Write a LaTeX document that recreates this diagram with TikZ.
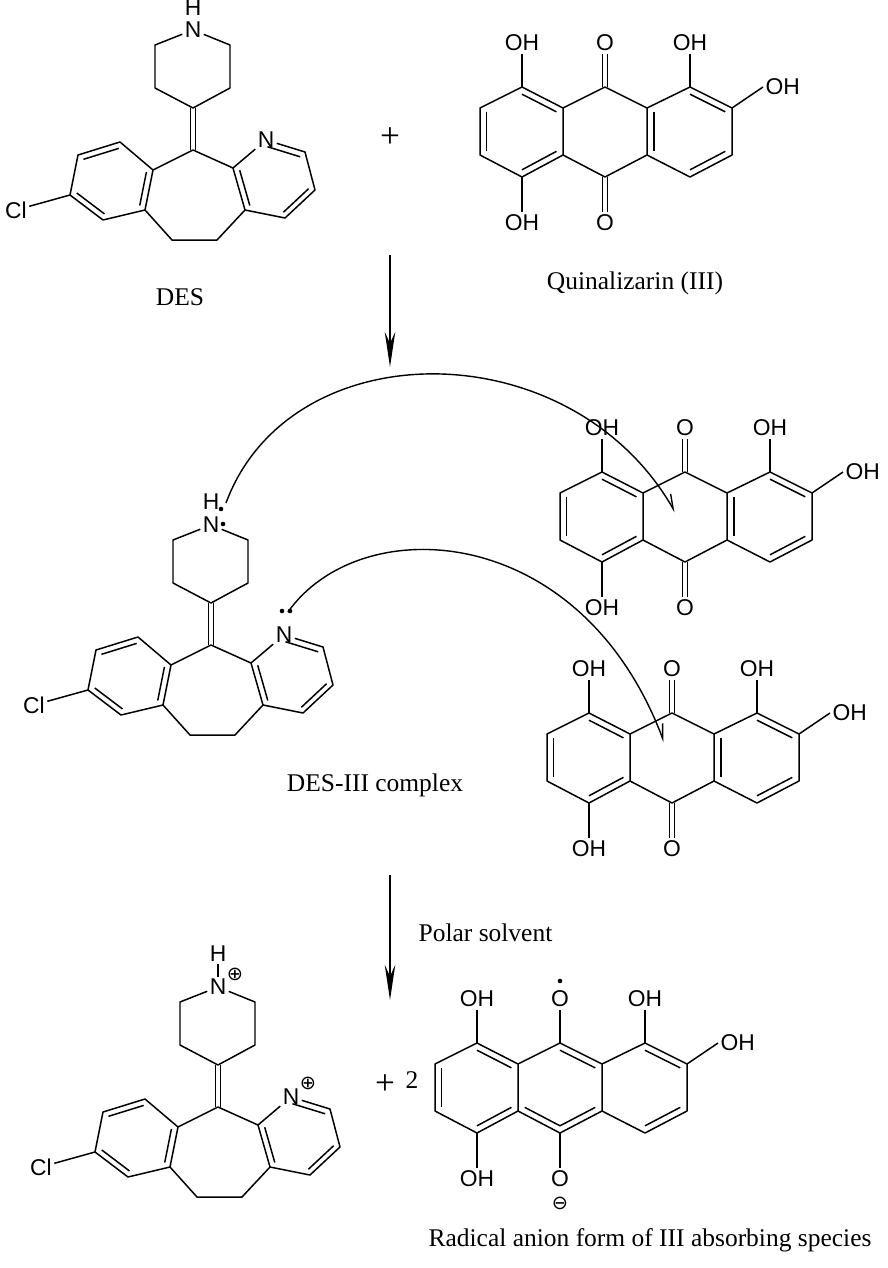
\documentclass[tikz,border=0pt]{standalone}
\usepackage{fontspec}
\setmainfont{Liberation Serif}
\newfontfamily\atomfont{Liberation Sans}
\newfontfamily\symfont{DejaVu Sans}
\usetikzlibrary{positioning, arrows.meta, calc}

% inner line of a ring double bond, pulled towards the ring centre
\newcommand{\dbl}[3]{\draw ($(#1)!0.16!(#3)$) -- ($(#2)!0.16!(#3)$);}

% anthraquinone skeleton shared by both forms
\newcommand{\quinskel}{%
  \coordinate (-c1) at (-83,0);  \coordinate (-c2) at (-125,21);
  \coordinate (-c3) at (-125,68); \coordinate (-c4) at (-83,90);
  \coordinate (-c4a) at (-42,68); \coordinate (-c9a) at (-42,21);
  \coordinate (-c9) at (0,0);    \coordinate (-c8a) at (42,21);
  \coordinate (-c8) at (85,0);   \coordinate (-c7) at (127,21);
  \coordinate (-c6) at (127,68); \coordinate (-c5) at (85,90);
  \coordinate (-c10a) at (42,68); \coordinate (-c10) at (0,90);
  \coordinate (-lc) at (-83,45); \coordinate (-rc) at (85,45);
  \coordinate (-mc) at (0,45);
  \draw (-c1) -- (-c2) -- (-c3) -- (-c4) -- (-c4a) -- (-c9a) -- cycle;
  \draw (-c9a) -- (-c9) -- (-c8a) -- (-c10a) -- (-c10) -- (-c4a);
  \draw (-c8a) -- (-c8) -- (-c7) -- (-c6) -- (-c5) -- (-c10a);
  \dbl{-c1}{-c9a}{-lc} \dbl{-c2}{-c3}{-lc} \dbl{-c4}{-c4a}{-lc}
  \dbl{-c8}{-c7}{-rc} \dbl{-c6}{-c5}{-rc}
  \node[atom] (-o1) at (-83,-44) {OH};
  \node[atom] (-o4) at (-83,136) {OH};
  \node[atom] (-o8) at (85,-44) {OH};
  \node[atom, anchor=west] (-o7) at (158,0) {OH};
  \draw (-c1) -- (-o1); \draw (-c4) -- (-o4);
  \draw (-c8) -- (-o8); \draw (-c7) -- (-o7.west);
}

\tikzset{
  x=0.02cm, y=-0.02cm,
  atom/.style={font=\atomfont\fontsize{13}{15}\selectfont, inner sep=1pt},
  caption/.style={font=\fontsize{14.5}{17}\selectfont},
  arrow/.style={-{Stealth[length=20pt, width=6pt]}, line width=0.8pt},
  push/.style={-{Straight Barb[left, length=8pt, width=6pt]}, line width=0.8pt},
  des/.pic={
    \node[atom] (-n) at (193,30) {N};
    \coordinate (-p2) at (155,45); \coordinate (-p3) at (155,88);
    \coordinate (-p4) at (193,108); \coordinate (-p5) at (230,88);
    \coordinate (-p6) at (230,45); \coordinate (-c11) at (193,150);
    \coordinate (-a1) at (153,170); \coordinate (-a2) at (120,142);
    \coordinate (-a3) at (78,155);  \coordinate (-a4) at (70,195);
    \coordinate (-a5) at (103,220); \coordinate (-a6) at (145,210);
    \coordinate (-ac) at (112,182);
    \coordinate (-b1) at (233,168); \node[atom] (-pn) at (266,140) {N};
    \coordinate (-b3) at (305,152); \coordinate (-b4) at (315,190);
    \coordinate (-b5) at (285,218); \coordinate (-b6) at (245,210);
    \coordinate (-bc) at (275,182);
    \coordinate (-e1) at (172,240); \coordinate (-e2) at (217,240);
    \node[atom] (-cl) at (16,210) {Cl};
    \draw (-n) -- (-p2) -- (-p3) -- (-p4) -- (-p5) -- (-p6) -- (-n);
    \draw ([xshift=-1.3pt]-p4) -- ([xshift=-1.3pt]-c11);
    \draw ([xshift=1.3pt]-p4) -- ([xshift=1.3pt]-c11);
    \draw (-a1) -- (-a2) -- (-a3) -- (-a4) -- (-a5) -- (-a6) -- cycle;
    \dbl{-a2}{-a3}{-ac} \dbl{-a4}{-a5}{-ac} \dbl{-a6}{-a1}{-ac}
    \draw (-pn) -- (-b1) -- (-b6) -- (-b5) -- (-b4) -- (-b3) -- (-pn);
    \dbl{-pn}{-b3}{-bc} \dbl{-b4}{-b5}{-bc} \dbl{-b6}{-b1}{-bc}
    \draw (-a1) -- (-c11) -- (-b1);
    \draw (-a6) -- (-e1) -- (-e2) -- (-b6);
    \draw (-cl) -- (-a4);
  },
  quin/.pic={
    \quinskel
    \node[atom] (-o9) at (0,-44) {O};
    \node[atom] (-o10) at (0,136) {O};
    \draw ([xshift=-1.3pt]-c9) -- ([xshift=-1.3pt]-o9.south);
    \draw ([xshift=1.3pt]-c9) -- ([xshift=1.3pt]-o9.south);
    \draw ([xshift=-1.3pt]-c10) -- ([xshift=-1.3pt]-o10.north);
    \draw ([xshift=1.3pt]-c10) -- ([xshift=1.3pt]-o10.north);
    \dbl{-c8a}{-c10a}{-rc}
  },
  quinrad/.pic={
    \quinskel
    \node[atom] (-o9) at (0,-44) {O};
    \node[atom] (-o10) at (0,136) {O};
    \fill (0,-62) circle (1.3pt);
    \node[inner sep=0pt, font=\symfont\fontsize{11}{12}\selectfont] at (0,160) {⊖};
    \draw (-c9) -- (-o9); \draw (-c10) -- (-o10);
    \dbl{-c9}{-c8a}{-mc} \dbl{-c4a}{-c10}{-mc} \dbl{-c10}{-c10a}{-mc}
  }
}

\begin{document}
\begin{tikzpicture}[line width=0.85pt, line join=round]
\useasboundingbox (0,0) rectangle (887,1268);

% starting materials
\pic (d1) at (0,0) {des};
\node[atom] (d1h) at (193,8) {H};
\node[font=\fontsize{20}{20}\selectfont] (plus1) at (390,138) {+};
\pic (q1) at (605,87) {quin};
\node[caption] (lbldes) at (180,297) {DES};
\node[caption] (lblq) at (635,283) {Quinalizarin (III)};

\coordinate (ar1s) at (390,255);
\coordinate (ar1e) at (390,367);
\draw[arrow] (ar1s) -- (ar1e);

% complex
\pic (d2) at (18,495) {des};
\node[atom] (d2h) at (211,502) {H};
\fill (221,509) circle (1.3pt);
\fill (223,524) circle (1.3pt);
\fill (282,611) circle (1.3pt);
\fill (290,611) circle (1.3pt);
\pic (q2) at (685,472) {quin};
\pic (q3) at (672,713) {quin};
\node[caption] (lblcx) at (375,785) {DES-III complex};

\coordinate (cs1) at (226,503);
\coordinate (ce1) at (675,512);
\draw[push] (cs1) .. controls (290,330) and (570,330) .. (ce1);
\coordinate (cs2) at (288,612);
\coordinate (ce2) at (664,742);
\draw[push] (cs2) .. controls (360,510) and (580,520) .. (ce2);

\coordinate (ar2s) at (390,875);
\coordinate (ar2e) at (390,1000);
\draw[arrow] (ar2s) -- (ar2e);
\node[caption, anchor=west] (lblsolv) at (412,933) {Polar solvent};

% products
\pic (d3) at (25,957) {des};
\node[atom] (d3h) at (218,954) {H};
\draw (d3h.south) -- (d3-n.north);
\node[inner sep=0pt, font=\symfont\fontsize{11}{12}\selectfont] (d3plus) at (235,974) {⊕};
\node[inner sep=0pt, font=\symfont\fontsize{11}{12}\selectfont] (d3pplus) at (308,1083) {⊕};
\node[font=\fontsize{20}{20}\selectfont] (plus2) at (385,1085) {+};
\node[caption] (two) at (412,1080) {2};
\pic (q4) at (560,1043) {quinrad};
\node[caption] (lblrad) at (650,1240) {Radical anion form of III absorbing species};
\end{tikzpicture}
\end{document}
